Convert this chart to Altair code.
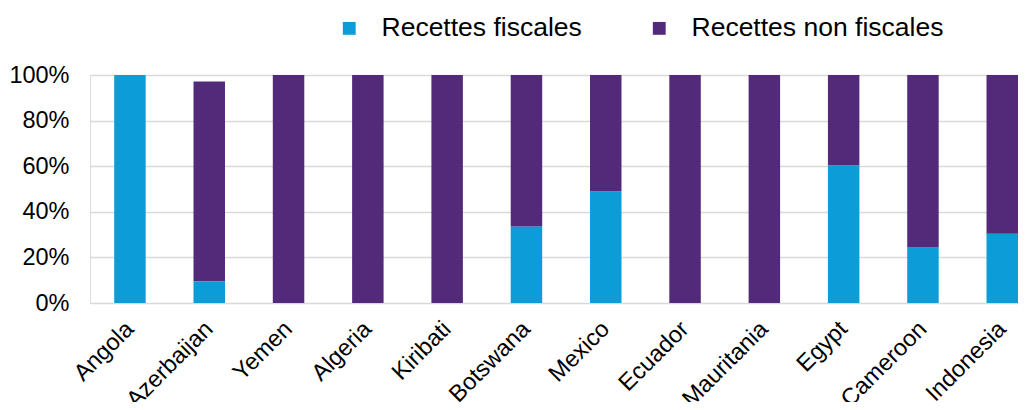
import altair as alt
import pandas as pd

countries = ["Angola", "Azerbaijan", "Yemen", "Algeria", "Kiribati", "Botswana",
             "Mexico", "Ecuador", "Mauritania", "Egypt", "Cameroon", "Indonesia"]
fiscal = [1.00, 0.095, 0.0, 0.0, 0.0, 0.335, 0.49, 0.0, 0.0, 0.604, 0.243, 0.304]
non_fiscal = [0.0, 0.877, 1.0, 1.0, 1.0, 0.665, 0.51, 1.0, 1.0, 0.396, 0.757, 0.696]
series = ["Recettes fiscales", "Recettes non fiscales"]
colors = ["#0C9DD9", "#532A7A"]

rows = []
for i, c in enumerate(countries):
    rows.append({"country": c, "serie": series[0], "value": fiscal[i], "ord": 0})
    rows.append({"country": c, "serie": series[1], "value": non_fiscal[i], "ord": 1})
df = pd.DataFrame(rows)

FONT = "Liberation Sans"

chart = alt.Chart(df).mark_bar().encode(
    x=alt.X("country:N", sort=countries, title=None,
            scale=alt.Scale(paddingInner=0.603, paddingOuter=0.1526, align=1),
            axis=alt.Axis(labelAngle=-45, labelFontSize=23.5, labelColor="#000000",
                          labelFont=FONT, ticks=False, domain=False, grid=False,
                          labelPadding=22, labelAlign="right", labelBaseline="middle")),
    y=alt.Y("value:Q", stack="zero", title=None,
            scale=alt.Scale(domain=[0, 1], nice=False),
            axis=alt.Axis(format=".0%", values=[0, 0.2, 0.4, 0.6, 0.8, 1.0],
                          labelFontSize=23.5, labelColor="#000000", labelFont=FONT,
                          ticks=False, domain=False, labelPadding=21,
                          gridColor="#D9D9D9", gridWidth=1.5)),
    color=alt.Color("serie:N", scale=alt.Scale(domain=series, range=colors),
                    legend=alt.Legend(title=None, orient="none", direction="horizontal",
                                      legendX=246, legendY=-60,
                                      symbolType="square", symbolSize=165,
                                      symbolStrokeWidth=0, labelLimit=0,
                                      labelFontSize=26.5, labelFont=FONT,
                                      labelColor="#000000", labelOffset=19,
                                      columnPadding=64)),
    order=alt.Order("ord:Q"),
).properties(
    width=928, height=228,
    autosize=alt.AutoSizeParams(type="none"),
    padding={"left": 82, "top": 67, "right": 0, "bottom": 99},
).configure_view(stroke=None).configure(font=FONT)

chart.save("out.html", embed_options={"renderer": "svg", "actions": False})
